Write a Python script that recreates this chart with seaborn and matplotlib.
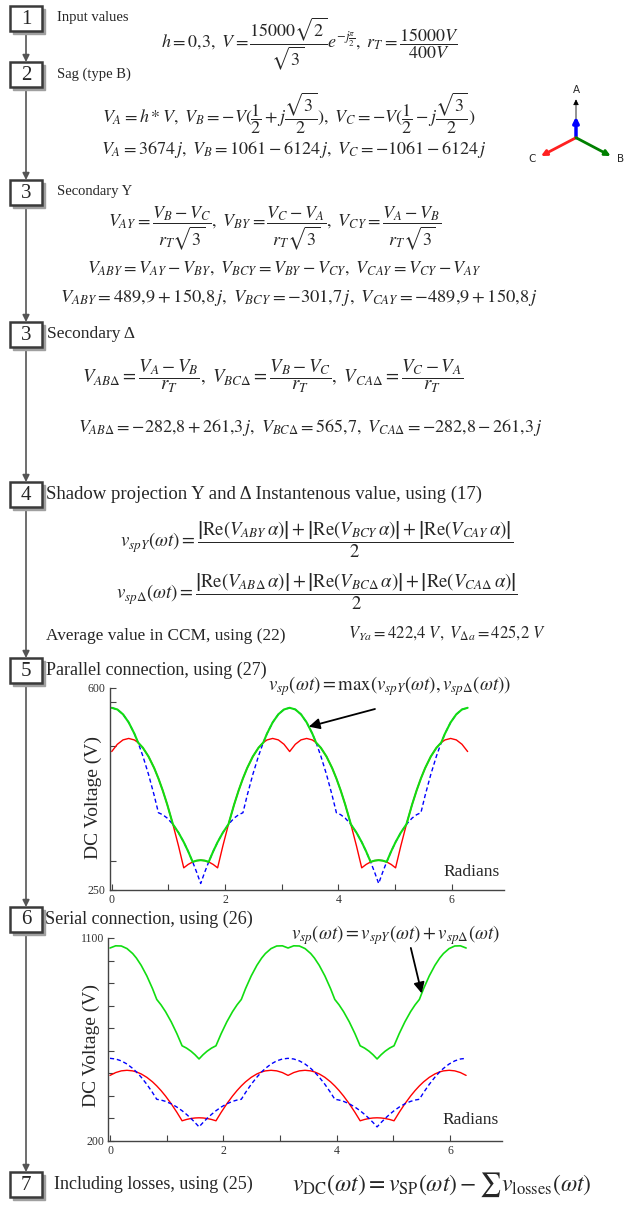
import numpy as np
import pandas as pd
import seaborn as sns
import matplotlib.pyplot as plt
from matplotlib.patches import Rectangle

# ---- data (radians, volts) ----
radians = [0.0, 0.1, 0.2, 0.3, 0.4, 0.4655, 0.55, 0.65, 0.75, 0.8247, 0.9, 0.98, 1.08, 1.18, 1.272, 1.35, 1.429, 1.5, 1.5708,
           1.6416, 1.7126, 1.7916, 1.8696, 1.9616, 2.0616, 2.1616, 2.2416, 2.3169, 2.3916, 2.4916, 2.5916, 2.6761, 2.7416, 2.8416, 2.9416, 3.0416, 3.1416,
           3.2416, 3.3416, 3.4416, 3.5416, 3.6071, 3.6916, 3.7916, 3.8916, 3.9663, 4.0416, 4.1216, 4.2216, 4.3216, 4.4136, 4.4916, 4.5706, 4.6416, 4.7124,
           4.7832, 4.8542, 4.9332, 5.0112, 5.1032, 5.2032, 5.3032, 5.3832, 5.4585, 5.5332, 5.6332, 5.7332, 5.8177, 5.8832, 5.9832, 6.0832, 6.1832, 6.2832]

v_spY = [489.9, 502.5, 510.1, 512.6, 510.0, 505.5, 496.5, 481.3, 461.3, 443.3, 422.7, 398.2, 364.0, 326.1, 288.4, 294.3, 298.6, 300.9, 301.7,
         300.9, 298.6, 294.3, 288.4, 326.1, 364.0, 398.2, 422.7, 443.3, 461.3, 481.3, 496.5, 505.5, 510.0, 512.6, 510.1, 502.5, 489.9,
         502.5, 510.1, 512.6, 510.0, 505.5, 496.5, 481.3, 461.3, 443.3, 422.7, 398.2, 364.0, 326.1, 288.4, 294.3, 298.6, 300.9, 301.7,
         300.9, 298.6, 294.3, 288.4, 326.1, 364.0, 398.2, 422.7, 443.3, 461.3, 481.3, 496.5, 505.5, 510.0, 512.6, 510.1, 502.5, 489.9]

v_spD = [565.7, 562.8, 554.4, 540.4, 521.0, 505.5, 482.2, 450.3, 413.9, 383.9, 380.5, 374.6, 363.8, 349.3, 333.0, 316.9, 298.7, 280.7, 261.3,
         280.7, 298.7, 316.9, 333.0, 349.3, 363.8, 374.6, 380.5, 383.9, 413.9, 450.3, 482.2, 505.5, 521.0, 540.4, 554.4, 562.8, 565.7,
         562.8, 554.4, 540.4, 521.0, 505.5, 482.2, 450.3, 413.9, 383.9, 380.5, 374.6, 363.8, 349.3, 333.0, 316.9, 298.7, 280.7, 261.3,
         280.7, 298.7, 316.9, 333.0, 349.3, 363.8, 374.6, 380.5, 383.9, 413.9, 450.3, 482.2, 505.5, 521.0, 540.4, 554.4, 562.8, 565.7]

v_par = [565.7, 562.8, 554.4, 540.4, 521.0, 505.5, 496.5, 481.3, 461.3, 443.3, 422.7, 398.2, 364.0, 349.3, 333.0, 316.9, 298.7, 300.9, 301.7,
         300.9, 298.7, 316.9, 333.0, 349.3, 364.0, 398.2, 422.7, 443.3, 461.3, 481.3, 496.5, 505.5, 521.0, 540.4, 554.4, 562.8, 565.7,
         562.8, 554.4, 540.4, 521.0, 505.5, 496.5, 481.3, 461.3, 443.3, 422.7, 398.2, 364.0, 349.3, 333.0, 316.9, 298.7, 300.9, 301.7,
         300.9, 298.7, 316.9, 333.0, 349.3, 364.0, 398.2, 422.7, 443.3, 461.3, 481.3, 496.5, 505.5, 521.0, 540.4, 554.4, 562.8, 565.7]

v_ser = [1055.6, 1065.3, 1064.5, 1053.0, 1031.0, 1011.0, 978.7, 931.6, 875.2, 827.2, 803.2, 772.8, 727.8, 675.4, 621.4, 611.2, 597.3, 581.6, 563.0,
         581.6, 597.3, 611.2, 621.4, 675.4, 727.8, 772.8, 803.2, 827.2, 875.2, 931.6, 978.7, 1011.0, 1031.0, 1053.0, 1064.5, 1065.3, 1055.6,
         1065.3, 1064.5, 1053.0, 1031.0, 1011.0, 978.7, 931.6, 875.2, 827.2, 803.2, 772.8, 727.8, 675.4, 621.4, 611.2, 597.3, 581.6, 563.0,
         581.6, 597.3, 611.2, 621.4, 675.4, 727.8, 772.8, 803.2, 827.2, 875.2, 931.6, 978.7, 1011.0, 1031.0, 1053.0, 1064.5, 1065.3, 1055.6]

# flow chart steps
step_nums = ['1', '2', '3', '3', '4', '5', '6', '7']
step_labels = ['Input values', 'Sag (type B)', 'Secondary Y', 'Secondary \u0394',
               'Shadow projection Y and \u0394 Instantenous value, using (17)',
               'Parallel connection, using (27)', 'Serial connection, using (26)',
               'Including losses, using (25)']

sns.set_theme(style='white')
plt.rcParams['font.family'] = ['Liberation Serif', 'DejaVu Serif']
plt.rcParams['mathtext.fontset'] = 'stix'

W, H = 624, 1205
fig = plt.figure(figsize=(W / 100, H / 100), dpi=100)

# background axes in pixel coords for the flow chart
bg = fig.add_axes([0, 0, 1, 1])
bg.set_xlim(0, W)
bg.set_ylim(H, 0)
bg.axis('off')

box_top = [6, 62, 180, 322, 482, 658, 907, 1172]
lab_x = [57, 57, 57, 47, 46, 46, 45, 54]
lab_size = [10.5, 10.5, 10.5, 12.5, 13.5, 13, 13, 13]
gray = '#555555'

for i in range(len(box_top)):
    y0 = box_top[i]
    bg.add_patch(Rectangle((12.5, y0 + 2.5), 32, 25, color='#a0a0a0', zorder=2))
    bg.add_patch(Rectangle((10, y0), 32, 25, facecolor='white', edgecolor='#3a3a3a', lw=1.8, zorder=3))
    bg.text(26, y0 + 13, step_nums[i], ha='center', va='center', fontsize=15, zorder=4)
    bg.text(lab_x[i], y0 + 12, step_labels[i], ha='left', va='center', fontsize=lab_size[i], zorder=4)
    if i > 0:
        bg.annotate('', xy=(26, y0), xytext=(26, box_top[i - 1] + 25),
                    arrowprops=dict(arrowstyle='-|>', color=gray, lw=1.2, shrinkA=0, shrinkB=0,
                                    mutation_scale=10), zorder=1)

fs = 13
bg.text(310, 44, r'$h=0{,}3,\ V=\dfrac{15000\sqrt{2}}{\sqrt{3}}e^{-j\frac{\pi}{2}},\ r_T=\dfrac{15000V}{400V}$',
        ha='center', va='center', fontsize=fs)
bg.text(289, 113, r'$V_A=h*V,\ V_B=-V(\dfrac{1}{2}+j\dfrac{\sqrt{3}}{2}),\ V_C=-V(\dfrac{1}{2}-j\dfrac{\sqrt{3}}{2})$',
        ha='center', va='center', fontsize=fs)
bg.text(294, 150, r'$V_A=3674\,j,\ V_B=1061-6124\,j,\ V_C=-1061-6124\,j$',
        ha='center', va='center', fontsize=fs)
bg.text(275, 228, r'$V_{AY}=\dfrac{V_B-V_C}{r_T\sqrt{3}},\ V_{BY}=\dfrac{V_C-V_A}{r_T\sqrt{3}},\ V_{CY}=\dfrac{V_A-V_B}{r_T\sqrt{3}}$',
        ha='center', va='center', fontsize=fs)
bg.text(284, 268, r'$V_{ABY}=V_{AY}-V_{BY},\ V_{BCY}=V_{BY}-V_{CY},\ V_{CAY}=V_{CY}-V_{AY}$',
        ha='center', va='center', fontsize=fs)
bg.text(299, 298, r'$V_{ABY}=489{,}9+150{,}8\,j,\ V_{BCY}=-301{,}7\,j,\ V_{CAY}=-489{,}9+150{,}8\,j$',
        ha='center', va='center', fontsize=13.3)
bg.text(273, 376, r'$V_{AB\Delta}=\dfrac{V_A-V_B}{r_T},\ V_{BC\Delta}=\dfrac{V_B-V_C}{r_T},\ V_{CA\Delta}=\dfrac{V_C-V_A}{r_T}$',
        ha='center', va='center', fontsize=13.6)
bg.text(310, 427, r'$V_{AB\Delta}=-282{,}8+261{,}3\,j,\ V_{BC\Delta}=565{,}7,\ V_{CA\Delta}=-282{,}8-261{,}3\,j$',
        ha='center', va='center', fontsize=fs)
bg.text(317, 540, r'$v_{spY}\left(\omega t\right)=\dfrac{\left|\mathrm{Re}\left(V_{ABY}\,\alpha\right)\right|+\left|\mathrm{Re}\left(V_{BCY}\,\alpha\right)\right|+\left|\mathrm{Re}\left(V_{CAY}\,\alpha\right)\right|}{2}$',
        ha='center', va='center', fontsize=13.5)
bg.text(317, 592, r'$v_{sp\Delta}\left(\omega t\right)=\dfrac{\left|\mathrm{Re}\left(V_{AB\Delta}\,\alpha\right)\right|+\left|\mathrm{Re}\left(V_{BC\Delta}\,\alpha\right)\right|+\left|\mathrm{Re}\left(V_{CA\Delta}\,\alpha\right)\right|}{2}$',
        ha='center', va='center', fontsize=13.5)
bg.text(46, 636, 'Average value in CCM, using (22)', ha='left', va='center', fontsize=12.4)
bg.text(348, 633, r'$V_{Ya}=422{,}4\ V,\ V_{\Delta a}=425{,}2\ V$', ha='left', va='center', fontsize=12)
bg.text(442, 1185, r'$v_{\mathrm{DC}}(\omega t)=v_{\mathrm{SP}}(\omega t)-\sum v_{\mathrm{losses}}(\omega t)$',
        ha='center', va='center', fontsize=17)

# phasor sketch
o = (576, 137.7)
for tip, col, lw in [((576, 99.3), 'black', 0.6), ((576, 116.7), 'blue', 2.5),
                     ((541, 156), '#ff2020', 2), ((610.7, 156), '#008000', 2)]:
    bg.annotate('', xy=tip, xytext=o,
                arrowprops=dict(arrowstyle='-|>', color=col, lw=lw, shrinkA=0, shrinkB=0,
                                mutation_scale=8))
for lbl, xy in [('A', (576, 90)), ('C', (532, 159)), ('B', (621, 159))]:
    bg.text(xy[0], xy[1], lbl, ha='center', va='center', fontsize=7.5, family='DejaVu Sans')

# ---- the two seaborn plots ----
ax1 = fig.add_axes([110 / W, (H - 890) / H, 393.7 / W, 202 / H])
ax2 = fig.add_axes([108.3 / W, (H - 1140.7) / H, 393.9 / W, 202.7 / H])

sns.lineplot(x=radians, y=v_spD, ax=ax1, color='#0000ff', lw=1, linestyle=(0, (3, 2)), sort=False, estimator=None)
sns.lineplot(x=radians, y=v_spY, ax=ax1, color='#ff0000', lw=1, sort=False, estimator=None)
sns.lineplot(x=radians, y=v_par, ax=ax1, color='#11dd11', lw=1.5, sort=False, estimator=None)

sns.lineplot(x=radians, y=v_ser, ax=ax2, color='#11dd11', lw=1.2, sort=False, estimator=None)
sns.lineplot(x=radians, y=v_spY, ax=ax2, color='#ff0000', lw=1, sort=False, estimator=None)
sns.lineplot(x=radians, y=v_spD, ax=ax2, color='#0000ff', lw=1, linestyle=(0, (3, 2)), sort=False, estimator=None)

for ax, ylim, yt, ytl, lab_y, rad_y in [
        (ax1, (250, 600), [250, 300, 500, 575, 600], ['250', '', '', '', '600'], 0.46, 0.089),
        (ax2, (200, 1100), list(range(200, 1101, 100)), ['200'] + [''] * 8 + ['1100'], 0.47, 0.10)]:
    ax.set_facecolor('none')
    ax.set_xlim(-0.03, 6.92)
    ax.set_ylim(*ylim)
    ax.set_xticks(range(7))
    ax.set_xticklabels(['0', '', '2', '', '4', '', '6'])
    ax.set_yticks(yt)
    ax.set_yticklabels(ytl)
    for s in ['top', 'right']:
        ax.spines[s].set_visible(False)
    for s in ['left', 'bottom']:
        ax.spines[s].set_color('#444444')
        ax.spines[s].set_linewidth(1)
    ax.tick_params(direction='in', length=4, width=0.8, color='#444444', labelsize=8.5,
                   labelcolor='#333333', pad=3, left=True, bottom=True)
    ax.set_xlabel('')
    ax.set_ylabel('DC Voltage (V)', fontsize=14)
    ax.yaxis.set_label_coords(-0.02, lab_y)
    ax.text(0.99, rad_y, 'Radians', transform=ax.transAxes, ha='right', va='center', fontsize=12.5)

ax1.text(0.71, 1.01, r'$v_{sp}\left(\omega t\right)=\max(v_{spY}\left(\omega t\right),v_{sp\Delta}\left(\omega t\right))$',
         transform=ax1.transAxes, ha='center', va='center', fontsize=13.5, clip_on=False)
ax1.annotate('', xy=(3.48, 533), xytext=(0.673, 0.896), textcoords='axes fraction',
             arrowprops=dict(arrowstyle='-|>', color='black', lw=1.3, mutation_scale=16,
                             shrinkA=0, shrinkB=0))
ax2.text(0.73, 1.015, r'$v_{sp}\left(\omega t\right)=v_{spY}\left(\omega t\right)+v_{sp\Delta}\left(\omega t\right)$',
         transform=ax2.transAxes, ha='center', va='center', fontsize=13.5, clip_on=False)
ax2.annotate('', xy=(5.5, 854), xytext=(0.768, 0.951), textcoords='axes fraction',
             arrowprops=dict(arrowstyle='-|>', color='black', lw=1.3, mutation_scale=16,
                             shrinkA=0, shrinkB=0))

fig.savefig('out.png', dpi=100)
